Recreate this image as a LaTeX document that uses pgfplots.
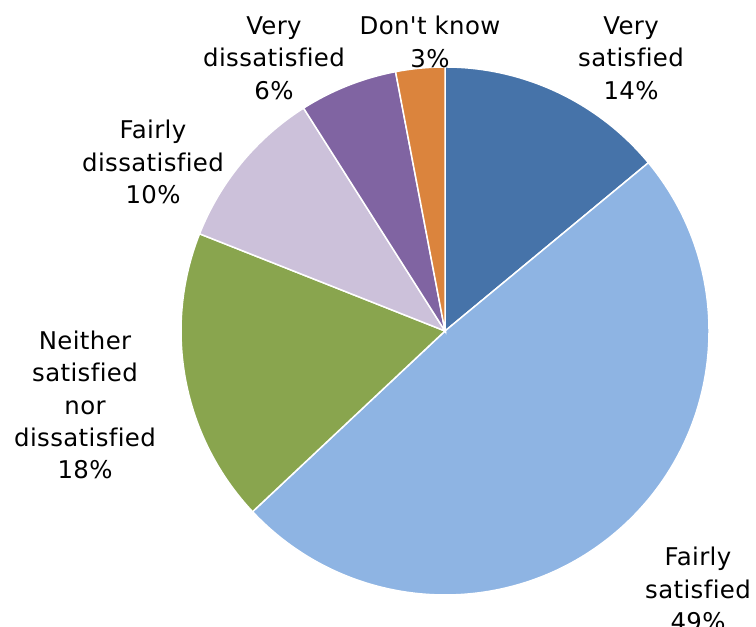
\documentclass[border=0pt]{standalone}
\usepackage{pgfplots}
\pgfplotsset{compat=1.18}
\usepackage{fontspec}
\setmainfont{DejaVu Sans}
\newfontfamily\lbl{DejaVu Sans}[Ligatures=NoCommon, LetterSpace=1.5]
\definecolor{cVS}{HTML}{4673A9}
\definecolor{cFS}{HTML}{8EB4E3}
\definecolor{cNS}{HTML}{89A54E}
\definecolor{cFD}{HTML}{CCC1DA}
\definecolor{cVD}{HTML}{8064A2}
\definecolor{cDK}{HTML}{DB843D}
\begin{document}
\begin{tikzpicture}[x=1bp,y=1bp]
\useasboundingbox (0,0) rectangle (756,627);
\clip (0,0) rectangle (756,627);
\begin{axis}[at={(0,0)}, anchor=south west, width=756bp, height=627bp,
  scale only axis, xmin=0, xmax=756, ymin=0, ymax=627, hide axis, clip=false]
% shares in percent, clockwise from 12 o'clock:
% Very satisfied 14, Fairly satisfied 49, Neither 18, Fairly dissatisfied 10, Very dissatisfied 6, Don't know 3
\def\R{264bp}
\fill[cVS, draw=white, line width=1.5bp] (axis cs:445,296) -- ++(90:\R)
  arc[start angle=90, delta angle={-3.6*14}, radius=\R] -- cycle;
\fill[cFS, draw=white, line width=1.5bp] (axis cs:445,296) -- ++({90-3.6*14}:\R)
  arc[start angle={90-3.6*14}, delta angle={-3.6*49}, radius=\R] -- cycle;
\fill[cNS, draw=white, line width=1.5bp] (axis cs:445,296) -- ++({90-3.6*(14+49)}:\R)
  arc[start angle={90-3.6*(14+49)}, delta angle={-3.6*18}, radius=\R] -- cycle;
\fill[cFD, draw=white, line width=1.5bp] (axis cs:445,296) -- ++({90-3.6*(14+49+18)}:\R)
  arc[start angle={90-3.6*(14+49+18)}, delta angle={-3.6*10}, radius=\R] -- cycle;
\fill[cVD, draw=white, line width=1.5bp] (axis cs:445,296) -- ++({90-3.6*(14+49+18+10)}:\R)
  arc[start angle={90-3.6*(14+49+18+10)}, delta angle={-3.6*6}, radius=\R] -- cycle;
\fill[cDK, draw=white, line width=1.5bp] (axis cs:445,296) -- ++({90-3.6*(14+49+18+10+6)}:\R)
  arc[start angle={90-3.6*(14+49+18+10+6)}, delta angle={-3.6*3}, radius=\R] -- cycle;
\tikzset{lab/.style={align=center, inner sep=0pt, font=\lbl\fontsize{24.5}{32.5}\selectfont}}
\node[lab] at (axis cs:631,569) {Very\\satisfied\\14\%};
\node[lab] at (axis cs:698,38) {Fairly\\satisfied\\49\%};
\node[lab] at (axis cs:85,222) {Neither\\satisfied\\nor\\dissatisfied\\18\%};
\node[lab] at (axis cs:153,465) {Fairly\\dissatisfied\\10\%};
\node[lab] at (axis cs:274,569) {Very\\dissatisfied\\6\%};
\node[lab] at (axis cs:430,585) {Don't know\\3\%};
\end{axis}
\end{tikzpicture}
\end{document}
